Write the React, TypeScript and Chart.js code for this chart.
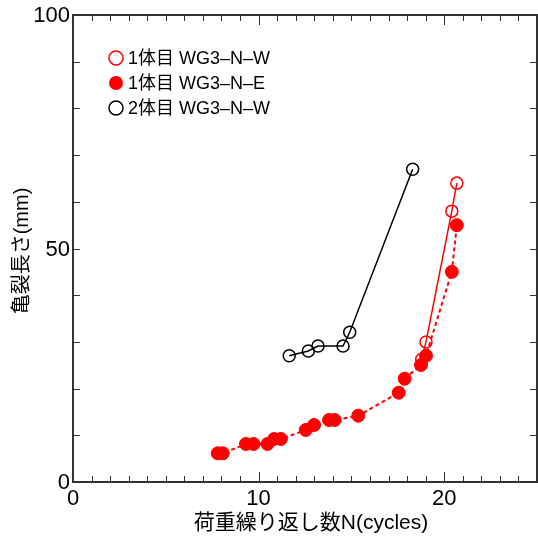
import React, { useEffect, useRef } from 'react';
import { Chart, registerables } from 'chart.js';

Chart.register(...registerables);

// 1体目 WG3–N–W (open red, solid line)
const series1Label = '1体目 WG3–N–W';
const series1Cycles = [18.79, 19.02, 20.41, 20.68];
const series1Crack = [26.3, 30.0, 58.0, 64.0];

// 1体目 WG3–N–E (filled red, dashed line)
const series2Label = '1体目 WG3–N–E';
const series2Cycles = [7.8, 8.07, 9.32, 9.73, 10.48, 10.84, 11.2, 12.54, 12.99, 13.8, 14.1, 15.37, 17.55, 17.87, 18.75, 19.02, 20.41, 20.68];
const series2Crack = [6.15, 6.15, 8.14, 8.14, 8.14, 9.21, 9.21, 11.13, 12.21, 13.28, 13.28, 14.2, 19.12, 22.12, 25.05, 27.05, 45.0, 55.0];

// 2体目 WG3–N–W (open black, solid line)
const series3Label = '2体目 WG3–N–W';
const series3Cycles = [11.65, 12.68, 13.2, 14.55, 14.91, 18.3];
const series3Crack = [27.05, 28.05, 29.12, 29.12, 32.06, 66.96];

const xTickLabels = [0, 10, 20];
const yTickLabels = [0, 50, 100];
const xTitle = '荷重繰り返し数N(cycles)';
const yTitle = '亀裂長さ(mm)';

const FONT = '"Liberation Sans", Arial, "Noto Sans CJK JP", sans-serif';
const RED = '#ff0000';

const toPoints = (xs: number[], ys: number[]) => xs.map((x, i) => ({ x, y: ys[i] }));

const legendItems = [
  { label: series1Label, color: RED, filled: false },
  { label: series2Label, color: RED, filled: true },
  { label: series3Label, color: '#000000', filled: false },
];

const framePlugin = {
  id: 'frameTicksLegend',
  afterDraw(chart: any) {
    const { ctx, chartArea } = chart;
    const { left, right, top, bottom } = chartArea;
    const xs = chart.scales.x;
    const ys = chart.scales.y;
    ctx.save();

    // inward ticks on all four sides
    ctx.strokeStyle = '#333333';
    ctx.lineWidth = 1;
    ctx.beginPath();
    for (let v = 0; v <= 25; v += 1) {
      const px = Math.round(xs.getPixelForValue(v)) + 0.5;
      const len = v % 10 === 0 ? 10 : 6;
      ctx.moveTo(px, bottom);
      ctx.lineTo(px, bottom - len);
      ctx.moveTo(px, top);
      ctx.lineTo(px, top + len);
    }
    for (let v = 0; v <= 100; v += 10) {
      const py = Math.round(ys.getPixelForValue(v)) + 0.5;
      ctx.moveTo(left, py);
      ctx.lineTo(left + 7, py);
      ctx.moveTo(right, py);
      ctx.lineTo(right - 7, py);
    }
    ctx.stroke();

    // frame
    ctx.lineWidth = 2;
    ctx.strokeRect(left, top, right - left, bottom - top);

    // tick labels
    ctx.fillStyle = '#000000';
    ctx.font = `22px ${FONT}`;
    ctx.textAlign = 'center';
    ctx.textBaseline = 'middle';
    xTickLabels.forEach((v) => {
      ctx.fillText(String(v), xs.getPixelForValue(v), bottom + 17);
    });
    ctx.textAlign = 'right';
    yTickLabels.forEach((v) => {
      ctx.fillText(String(v), left - 3, ys.getPixelForValue(v) + 1);
    });

    // legend
    ctx.font = `18px ${FONT}`;
    ctx.textBaseline = 'middle';
    ctx.textAlign = 'left';
    legendItems.forEach((item, i) => {
      const cy = 58 + i * 25;
      const cx = 116;
      ctx.beginPath();
      ctx.arc(cx, cy, 7, 0, Math.PI * 2);
      if (item.filled) {
        ctx.fillStyle = item.color;
        ctx.fill();
      } else {
        ctx.lineWidth = 1.5;
        ctx.strokeStyle = item.color;
        ctx.stroke();
      }
      ctx.fillStyle = '#000000';
      ctx.fillText(item.label, 128, cy + 1);
    });

    // axis titles
    ctx.fillStyle = '#000000';
    ctx.font = `21px ${FONT}`;
    ctx.textAlign = 'center';
    ctx.textBaseline = 'middle';
    ctx.fillText(xTitle, 311, 523);

    ctx.translate(22, 251);
    ctx.rotate(-Math.PI / 2);
    ctx.font = `20px ${FONT}`;
    ctx.fillText(yTitle, 0, 0);
    ctx.restore();
  },
};

const noPadding = (s: any) => {
  s.paddingLeft = 0;
  s.paddingRight = 0;
  s.paddingTop = 0;
  s.paddingBottom = 0;
};

export default function App() {
  const canvasRef = useRef<HTMLCanvasElement | null>(null);

  useEffect(() => {
    const canvas = canvasRef.current;
    if (!canvas) return;
    const chart = new Chart(canvas, {
      type: 'scatter',
      data: {
        datasets: [
          {
            label: series1Label,
            data: toPoints(series1Cycles, series1Crack),
            showLine: true,
            borderColor: RED,
            borderWidth: 1.5,
            backgroundColor: 'rgba(0,0,0,0)',
            pointBorderColor: RED,
            pointBackgroundColor: 'rgba(0,0,0,0)',
            pointBorderWidth: 1.5,
            pointRadius: 6,
            order: 1,
          },
          {
            label: series2Label,
            data: toPoints(series2Cycles, series2Crack),
            showLine: true,
            borderColor: RED,
            borderWidth: 2,
            borderDash: [4, 3],
            backgroundColor: RED,
            pointBorderColor: RED,
            pointBackgroundColor: RED,
            pointBorderWidth: 1,
            pointRadius: 6.5,
            order: 0,
          },
          {
            label: series3Label,
            data: toPoints(series3Cycles, series3Crack),
            showLine: true,
            borderColor: '#000000',
            borderWidth: 1.5,
            backgroundColor: 'rgba(0,0,0,0)',
            pointBorderColor: '#000000',
            pointBackgroundColor: 'rgba(0,0,0,0)',
            pointBorderWidth: 1.5,
            pointRadius: 6,
            order: 2,
          },
        ],
      },
      options: {
        animation: false,
        responsive: false,
        devicePixelRatio: 1,
        layout: { autoPadding: false, padding: { top: 15, right: 1, left: 0, bottom: 0 } },
        plugins: {
          legend: { display: false },
          tooltip: { enabled: false },
        },
        scales: {
          x: {
            type: 'linear',
            min: 0,
            max: 25,
            grid: { display: false },
            border: { display: false },
            ticks: { display: false },
            afterFit: (s: any) => {
              s.height = 60;
              noPadding(s);
            },
          },
          y: {
            type: 'linear',
            min: 0,
            max: 100,
            grid: { display: false },
            border: { display: false },
            ticks: { display: false },
            afterFit: (s: any) => {
              s.width = 73;
              noPadding(s);
            },
          },
        },
      },
      plugins: [framePlugin],
    });
    return () => chart.destroy();
  }, []);

  return (
    <div style={{ position: 'absolute', left: 0, top: 0, width: 538, height: 542, background: '#ffffff' }}>
      <canvas ref={canvasRef} width={538} height={542} />
    </div>
  );
}
